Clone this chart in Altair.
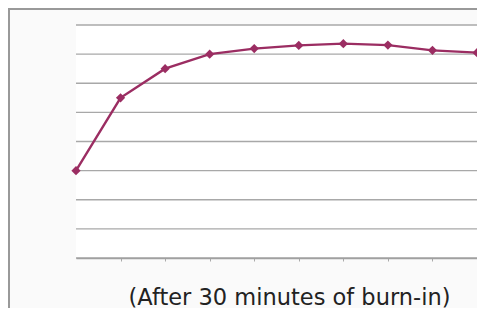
import altair as alt
import pandas as pd

x_index = [0, 1, 2, 3, 4, 5, 6, 7, 8, 9]
values = [3.0, 5.5, 6.5, 7.0, 7.19, 7.3, 7.36, 7.31, 7.13, 7.05]
grid_values = [0, 1, 2, 3, 4, 5, 6, 7, 8]
tick_values = [1, 2, 3, 4, 5, 6, 7, 8, 9]
title_text = "(After 30 minutes of burn-in)"

W, H = 401, 233
LINE = "#9b2d62"

df = pd.DataFrame({"x": x_index, "y": values})
gdf = pd.DataFrame({"g": grid_values})

xscale = alt.Scale(domain=[0, 9], nice=False, zero=False)
yscale = alt.Scale(domain=[0, 8], nice=False)

frame = alt.Chart(df.head(1)).mark_rect(fill="#fafafa", stroke="#999999", strokeWidth=2).encode(
    x=alt.value(-67), x2=alt.value(430), y=alt.value(-16), y2=alt.value(330)
)
plotbg = alt.Chart(df.head(1)).mark_rect(fill="white").encode(
    x=alt.value(0), x2=alt.value(W), y=alt.value(0), y2=alt.value(H)
)
grid = alt.Chart(gdf).mark_rule(color="#a8a8a8", strokeWidth=1.3).encode(
    y=alt.Y("g:Q", scale=yscale, axis=None),
    x=alt.value(0), x2=alt.value(W),
)
line = alt.Chart(df).mark_line(color=LINE, strokeWidth=2.4).encode(
    x=alt.X("x:Q", scale=xscale,
            axis=alt.Axis(values=tick_values, labels=False, tickSize=3, tickColor="#aaaaaa",
                          domainColor="#a0a0a0", domainWidth=1.3, grid=False, zindex=1,
                          title=title_text, titleFont="DejaVu Sans", titleFontSize=22.5,
                          titleFontWeight="normal", titleColor="#222222",
                          titleX=213, titleY=46, titleBaseline="alphabetic", titleAlign="center")),
    y=alt.Y("y:Q", scale=yscale,
            axis=alt.Axis(labels=False, ticks=False, grid=False, domainColor="#a0a0a0",
                          domainWidth=1.3, title=None, zindex=1)),
)
points = alt.Chart(df).mark_point(shape="diamond", filled=True, color=LINE, size=85, opacity=1).encode(
    x=alt.X("x:Q", scale=xscale), y=alt.Y("y:Q", scale=yscale)
)

chart = alt.layer(frame, plotbg, grid, line, points).properties(
    width=W, height=H,
    autosize=alt.AutoSizeParams(type="none"),
    padding={"left": 68, "top": 17, "right": 0, "bottom": 50},
    background="#f2f2f2",
).configure_view(stroke=None)

chart.save("out.html", embed_options={"renderer": "svg", "actions": False})
